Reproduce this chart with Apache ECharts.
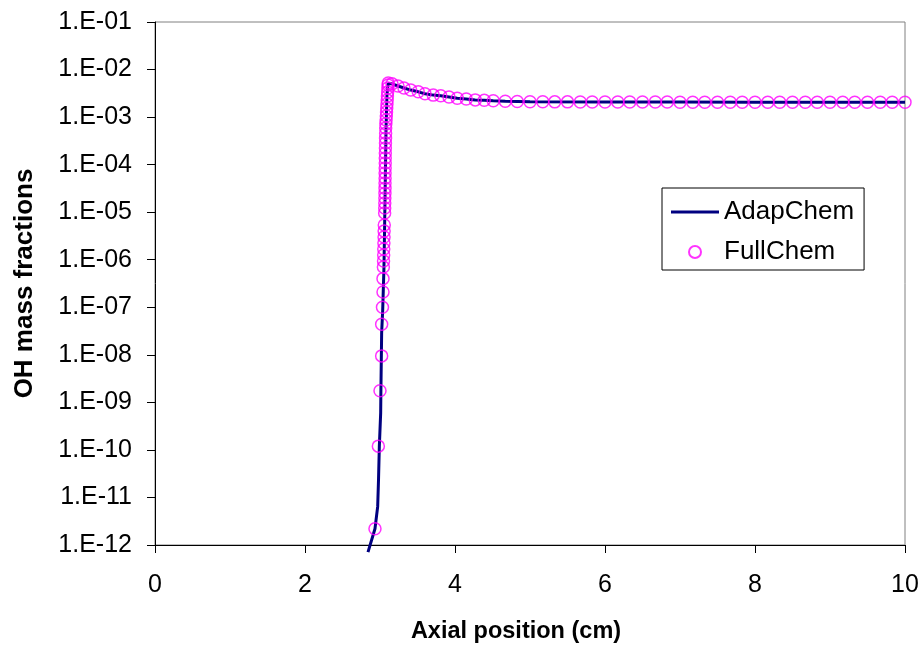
<!DOCTYPE html>
<html>
<head>
<meta charset="utf-8">
<script src="https://cdn.jsdelivr.net/npm/echarts@6/dist/echarts.min.js"></script>
<style>html,body{margin:0;padding:0;background:#fff}#c{width:923px;height:651px}</style>
</head>
<body>
<div id="c"></div>
<script>
const xTicks = [0, 2, 4, 6, 8, 10];
const yTickLabels = ['1.E-12','1.E-11','1.E-10','1.E-09','1.E-08','1.E-07','1.E-06','1.E-05','1.E-04','1.E-03','1.E-02','1.E-01'];

const adapX = [2.84, 2.933, 2.969, 2.98, 2.991, 3.009, 3.012, 3.022, 3.036, 3.053, 3.067, 3.08, 3.093, 3.107,
  3.16, 3.24, 3.32, 3.41, 3.51, 3.6, 3.71, 3.81, 3.92, 4.03, 4.15, 4.27, 4.39, 4.51, 4.67, 5.0, 6.0, 7.0, 8.0, 9.0, 10.0];
const adapY = [7.1e-13, 2.2e-12, 6.4e-12, 2.3e-11, 1.17e-10, 6e-10, 1.76e-9, 2.9e-8, 8.7e-8, 7e-7, 1.8e-5, 5.4e-4, 2.9e-3, 5.0e-3,
  5.0e-3, 4.5e-3, 4.1e-3, 3.7e-3, 3.4e-3, 3.1e-3, 2.9e-3, 2.8e-3, 2.65e-3, 2.5e-3, 2.4e-3, 2.3e-3, 2.25e-3, 2.2e-3, 2.15e-3, 2.1e-3, 2.08e-3, 2.07e-3, 2.06e-3, 2.05e-3, 2.05e-3];

const fullX = [2.933, 2.978, 3.0, 3.022, 3.022, 3.033, 3.04, 3.04,
  3.045, 3.047, 3.049, 3.050, 3.052, 3.054, 3.055, 3.057,
  3.062, 3.063, 3.064, 3.065, 3.066, 3.067, 3.067, 3.068, 3.068, 3.069, 3.070, 3.070, 3.071, 3.072, 3.073, 3.074, 3.075, 3.076,
  3.078, 3.081, 3.084, 3.087, 3.090, 3.093, 3.096, 3.099, 3.102, 3.105, 3.108, 3.110,
  3.16, 3.24, 3.32, 3.41, 3.51, 3.6, 3.71, 3.81, 3.92, 4.03, 4.15, 4.27, 4.39, 4.51,
  4.67, 4.83, 5.00, 5.17, 5.33, 5.50, 5.67, 5.83, 6.00, 6.17, 6.33, 6.50, 6.67, 6.83, 7.00, 7.17,
  7.33, 7.50, 7.67, 7.83, 8.00, 8.17, 8.33, 8.50, 8.67, 8.83, 9.00, 9.17, 9.33, 9.50, 9.67, 9.83, 10.00];
const fullY = [2.2e-12, 1.2e-10, 1.76e-9, 9.5e-9, 4.4e-8, 1.0e-7, 2.1e-7, 4.0e-7,
  7.0e-7, 9.4e-7, 1.26e-6, 1.68e-6, 2.25e-6, 3.0e-6, 4.0e-6, 5.4e-6,
  9.6e-6, 1.22e-5, 1.56e-5, 1.99e-5, 2.5e-5, 3.2e-5, 4.1e-5, 5.2e-5, 6.7e-5, 8.5e-5, 1.08e-4, 1.38e-4, 1.76e-4, 2.24e-4, 2.85e-4, 3.6e-4, 4.6e-4, 5.9e-4,
  7.2e-4, 8.7e-4, 1.05e-3, 1.28e-3, 1.55e-3, 1.88e-3, 2.29e-3, 2.78e-3, 3.37e-3, 4.09e-3, 4.73e-3, 5.2e-3,
  5.0e-3, 4.5e-3, 4.1e-3, 3.7e-3, 3.4e-3, 3.1e-3, 2.9e-3, 2.8e-3, 2.65e-3, 2.5e-3, 2.4e-3, 2.3e-3, 2.25e-3, 2.2e-3,
  2.15e-3, 2.13e-3, 2.1e-3, 2.1e-3, 2.09e-3, 2.09e-3, 2.08e-3, 2.08e-3, 2.08e-3, 2.07e-3, 2.07e-3, 2.07e-3, 2.07e-3, 2.07e-3, 2.06e-3, 2.06e-3,
  2.06e-3, 2.06e-3, 2.06e-3, 2.06e-3, 2.06e-3, 2.05e-3, 2.05e-3, 2.05e-3, 2.05e-3, 2.05e-3, 2.05e-3, 2.05e-3, 2.05e-3, 2.05e-3, 2.05e-3, 2.05e-3, 2.05e-3];

const FONT = '"Liberation Sans", Arial, sans-serif';
const chart = echarts.init(document.getElementById('c'), null, {renderer: 'canvas'});
chart.setOption({
  animation: false,
  backgroundColor: '#fff',
  grid: {left: 155, top: 22, right: 18, bottom: 106, show: true, borderColor: '#808080', borderWidth: 1, containLabel: false},
  xAxis: {
    type: 'value', min: xTicks[0], max: xTicks[xTicks.length - 1], interval: 2,
    name: 'Axial position (cm)', nameLocation: 'middle', nameGap: 75,
    nameTextStyle: {fontFamily: FONT, fontSize: 23.5, fontWeight: 'bold', color: '#000', padding: [0, 28, 0, 0]},
    axisLine: {show: true, onZero: false, lineStyle: {color: '#000', width: 1}},
    axisTick: {show: true, inside: false, length: 8, lineStyle: {color: '#000'}},
    axisLabel: {fontFamily: FONT, fontSize: 25, color: '#000', margin: 28},
    splitLine: {show: false}
  },
  yAxis: {
    type: 'log', logBase: 10, min: 1e-12, max: 1e-1, interval: 1,
    name: 'OH mass fractions', nameLocation: 'middle', nameGap: 117,
    nameTextStyle: {fontFamily: FONT, fontSize: 26, fontWeight: 'bold', color: '#000'},
    axisLine: {show: true, onZero: false, lineStyle: {color: '#000', width: 1}},
    axisTick: {show: true, inside: false, length: 8, lineStyle: {color: '#000'}},
    axisLabel: {fontFamily: FONT, fontSize: 25, color: '#000', margin: 23,
      formatter: function (v) { const e = Math.round(Math.log10(v)); return yTickLabels[e + 12]; }},
    splitLine: {show: false},
    minorTick: {show: false}
  },
  legend: {
    left: 662, top: 188, orient: 'vertical',
    borderColor: '#000', borderWidth: 1, backgroundColor: '#fff',
    padding: [11, 10, 5, 9], itemGap: 14,
    itemWidth: 48, itemHeight: 12,
    textStyle: {fontFamily: FONT, fontSize: 26, color: '#000'},
    data: [
      {name: 'AdapChem', icon: 'path://M0,0 L48,0 L48,3 L0,3 Z', itemStyle: {color: '#000080'}},
      {name: 'FullChem'}
    ]
  },
  series: [
    {
      name: 'AdapChem', type: 'line', z: 2, clip: false,
      data: adapX.map((x, i) => [x, adapY[i]]),
      symbol: 'none', lineStyle: {color: '#000080', width: 3}, itemStyle: {color: '#000080'}
    },
    {
      name: 'FullChem', type: 'scatter', z: 3,
      data: fullX.map((x, i) => [x, fullY[i]]),
      symbol: 'circle', symbolSize: 12,
      itemStyle: {color: 'rgba(0,0,0,0)', borderColor: '#ff00ff', borderWidth: 1.5}
    }
  ]
});
</script>
</body>
</html>
